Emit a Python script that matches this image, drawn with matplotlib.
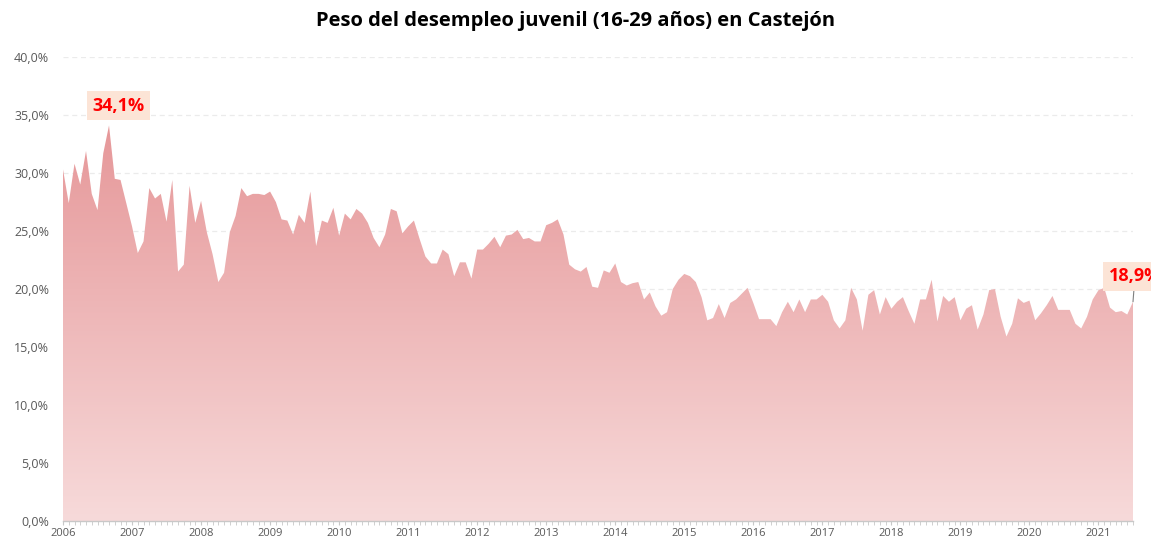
import numpy as np
import matplotlib
matplotlib.use("Agg")
import matplotlib.pyplot as plt
from matplotlib.colors import LinearSegmentedColormap
from matplotlib.ticker import FixedLocator, FuncFormatter

# ---------------- data ----------------
start_year = 2006
values = [
    30.3, 27.4, 30.8, 29.0, 31.9, 28.2, 26.8, 31.7, 34.1, 29.5,
    29.4, 27.4, 25.4, 23.1, 24.1, 28.7, 27.8, 28.2, 25.8, 29.4,
    21.5, 22.1, 28.9, 25.7, 27.6, 24.9, 23.0, 20.6, 21.4, 24.9,
    26.3, 28.7, 28.0, 28.2, 28.2, 28.1, 28.4, 27.5, 26.0, 25.9,
    24.7, 26.4, 25.7, 28.4, 23.7, 25.9, 25.7, 27.0, 24.6, 26.5,
    26.0, 26.9, 26.5, 25.7, 24.4, 23.6, 24.7, 26.9, 26.7, 24.8,
    25.4, 25.9, 24.3, 22.8, 22.2, 22.2, 23.4, 23.0, 21.1, 22.3,
    22.3, 20.9, 23.4, 23.4, 23.9, 24.5, 23.6, 24.6, 24.7, 25.1,
    24.3, 24.4, 24.1, 24.1, 25.5, 25.7, 26.0, 24.7, 22.1, 21.7,
    21.5, 21.9, 20.2, 20.1, 21.6, 21.4, 22.2, 20.6, 20.3, 20.5,
    20.6, 19.1, 19.7, 18.5, 17.7, 18.0, 20.0, 20.8, 21.3, 21.1,
    20.6, 19.3, 17.3, 17.5, 18.7, 17.5, 18.8, 19.1, 19.6, 20.1,
    18.8, 17.4, 17.4, 17.4, 16.8, 18.0, 18.9, 18.0, 19.1, 18.0,
    19.1, 19.1, 19.5, 18.9, 17.3, 16.6, 17.3, 20.1, 19.1, 16.4,
    19.5, 19.9, 17.8, 19.3, 18.3, 18.9, 19.3, 18.1, 17.0, 19.1,
    19.1, 20.8, 17.2, 19.4, 18.9, 19.3, 17.3, 18.3, 18.6, 16.5,
    17.8, 19.9, 20.0, 17.6, 15.9, 17.0, 19.2, 18.8, 19.0, 17.3,
    17.9, 18.6, 19.4, 18.2, 18.2, 18.2, 17.0, 16.6, 17.6, 19.1,
    19.9, 20.1, 18.4, 18.0, 18.1, 17.8, 18.9,
]
year_labels = [str(y) for y in range(2006, 2022)]
yticks = [0, 5, 10, 15, 20, 25, 30, 35, 40]
title = "Peso del desempleo juvenil (16-29 años) en Castejón"

# ---------------- figure ----------------
plt.rcParams['font.family'] = ['Open Sans', 'DejaVu Sans']
W, H = 1151, 544
fig = plt.figure(figsize=(W / 100, H / 100), dpi=100)
ax = fig.add_axes([63 / W, 23 / H, (1133 - 63) / W, (521 - 57) / H])

x = np.arange(len(values))
y = np.array(values)

# gradient fill clipped to area
poly = ax.fill_between(x, y, 0, color='none', lw=0)
cmap = LinearSegmentedColormap.from_list('g', ['#F7DADA', '#E38C8E'])
grad = np.linspace(0, 1, 256).reshape(-1, 1)
im = ax.imshow(grad, extent=[x[0], x[-1], 0, 40], origin='lower', aspect='auto',
               cmap=cmap, zorder=2)
path = poly.get_paths()[0]
im.set_clip_path(path, transform=ax.transData)

ax.set_xlim(x[0], x[-1])
ax.set_ylim(0, 40)

# grid
for v in yticks[1:]:
    ax.axhline(v, color='#EBEBEB', lw=0.9, ls=(0, (4, 3)), zorder=1)

for s in ['top', 'right', 'left']:
    ax.spines[s].set_visible(False)
ax.spines['bottom'].set_color('#C8C8C8')
ax.spines['bottom'].set_linewidth(1.0)
ax.spines['bottom'].set_zorder(5)

ax.set_yticks(yticks)
ax.yaxis.set_major_formatter(FuncFormatter(lambda v, p: f"{v:.1f}%".replace('.', ',')))
ax.tick_params(axis='y', length=0, pad=10, labelsize=9, labelcolor='#595959')

year_pos = [12 * i for i in range(len(year_labels))]
ax.set_xticks(year_pos)
ax.set_xticklabels(year_labels)
ax.xaxis.set_minor_locator(FixedLocator(list(x)))
ax.tick_params(axis='x', which='both', length=3, color='#C8C8C8', direction='out')
ax.tick_params(axis='x', which='major', labelsize=8, labelcolor='#595959', pad=2)

# title
fig.text(0.5, 1 - 21 / H, title, ha='center', va='center', fontsize=14.5,
         fontweight='bold', color='#000000')

# annotations
imax = int(np.argmax(y))
ax.annotate(f"{y[imax]:.1f}%".replace('.', ','), xy=(x[imax], y[imax]),
            xytext=(x[imax] + 1.6, 35.8), ha='center', va='center', fontsize=13,
            fontweight='bold', color='#FF0000', zorder=6,
            bbox=dict(boxstyle='square,pad=0.3', fc='#FCE4D6', ec='none'))
ilast = len(y) - 1
ax.annotate(f"{y[ilast]:.1f}%".replace('.', ','), xy=(x[ilast], y[ilast]),
            xytext=(x[ilast] - 4.2, 21.1), ha='left', va='center', fontsize=13,
            fontweight='bold', color='#FF0000', zorder=6, annotation_clip=False,
            bbox=dict(boxstyle='square,pad=0.3', fc='#FCE4D6', ec='none'),
            arrowprops=dict(arrowstyle='-', color='#7F7F7F', lw=0.8,
                            shrinkA=0, shrinkB=0))

fig.savefig('out.png', dpi=100)
